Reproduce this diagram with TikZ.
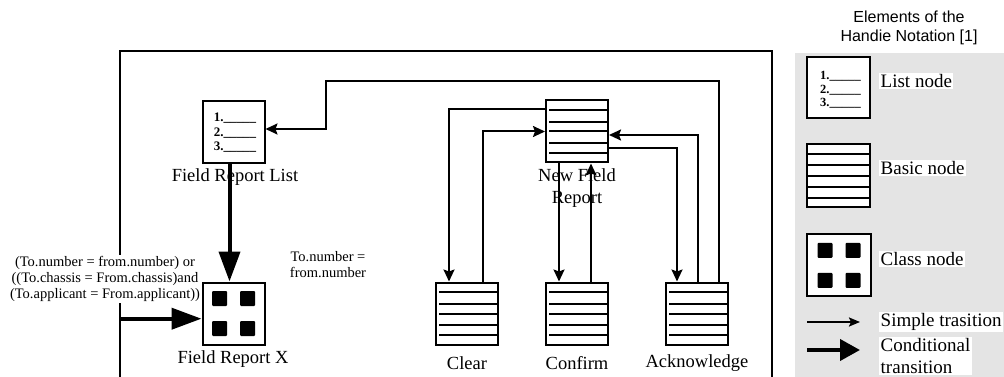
\documentclass[tikz,border=0pt]{standalone}
\usepackage{fontspec}
\setmainfont{Liberation Serif}
\newfontfamily\legsans{Liberation Sans}
\usetikzlibrary{arrows.meta,calc}
\definecolor{leggray}{HTML}{E4E4E4}
\begin{document}
\begin{tikzpicture}[x=1pt,y=-1pt,
  box/.style={draw, line width=2pt, minimum width=62pt, minimum height=62pt, inner sep=0pt, fill=white},
  basicbox/.style={box, path picture={
    \foreach \f in {0.16,0.34,0.5,0.685,0.85}{
      \draw[black, line width=2pt] ($(path picture bounding box.north west)!\f!(path picture bounding box.south west)+(#1,0)$) --
                            ($(path picture bounding box.north east)!\f!(path picture bounding box.south east)$);}}},
  classbox/.style={box, path picture={
    \foreach \dx in {-14,14}{\foreach \dy in {-15,15}{
      \fill[black, rounded corners=1pt] ($(path picture bounding box.center)+(\dx-7.5,\dy-7.5)$) rectangle ++(15,15);}}}},
  listtxt/.style={font=\bfseries\fontsize{13}{14.5}\selectfont, align=left},
  lbl/.style={font=\fontsize{18.5}{22}\selectfont, align=center, inner sep=0pt},
  cond/.style={font=\fontsize{14.5}{16.3}\selectfont, align=center},
  leglbl/.style={font=\fontsize{19}{22.5}\selectfont, align=left, fill=white, anchor=west, inner sep=1.5pt},
  simple/.style={line width=2pt, -{Stealth[length=12pt,width=11pt,inset=2pt]}},
  condarr/.style={line width=4pt, -{Triangle[length=30pt,width=21pt]}}
]
\useasboundingbox (0,0) rectangle (1004,377);

% ---------- frame ----------
\draw[line width=2pt] (120,377) -- (120,51) -- (771.7,51) -- (771.7,377);

% ---------- labels (under the connectors) ----------
\node[lbl] (lfrl) at (235,177) {Field Report List};
\node[lbl] (lfrx) at (233,359) {Field Report X};
\node[lbl] (lnfr) at (577,188) {New Field\\Report};
\node[lbl] (lclear) at (467,362.7) {Clear};
\node[lbl] (lconf) at (577,362.7) {Confirm};
\node[lbl] (lack) at (697,362.7) {Acknowledge};
\node[cond, fill=white, inner sep=1pt] (condlbl) at (105,279) {(To.number = from.number) or\\((To.chassis = From.chassis)and\\(To.applicant = From.applicant))};
\node[cond] (tonum) at (328,264.7) {To.number =\\from.number};

% ---------- nodes ----------
\node[box] (frl) at (233.5,132) {};
\node[listtxt] (frltxt) at (235,133) {1.\_\_\_\_\_\\2.\_\_\_\_\_\\3.\_\_\_\_\_};
\node[classbox] (frx) at (233.5,313.5) {};
\node[basicbox=3pt] (nfr) at (577,131.5) {};
\node[basicbox=3pt] (clear) at (467,313.5) {};
\node[basicbox=3pt] (confirm) at (577,313.5) {};
\node[basicbox=3pt] (ack) at (697,313.5) {};

% ---------- connectors ----------
\coordinate (t1) at (326,81);
\coordinate (fl) at (120,318.7);
\draw[condarr] ([xshift=-4pt]frl.south) -- ([xshift=-4pt]frx.north);
\draw[condarr] (fl) -- (fl -| frx.west);
\draw[simple] ([yshift=-10pt]nfr.north west) -| ([xshift=14pt]clear.north west);
\draw[simple] ([xshift=48pt]clear.north west) |- (nfr.west);
\draw[simple] ([xshift=14pt]nfr.south west) -- ([xshift=14pt]confirm.north west);
\draw[simple] ([xshift=46pt]confirm.north west) -- ([xshift=46pt]nfr.south west);
\draw[simple] ([yshift=-17pt]nfr.east) -| ([xshift=12pt]ack.north west);
\draw[simple] ([xshift=33pt]ack.north west) |- ([yshift=-3.5pt]nfr.east);
\draw[simple] ([xshift=54pt]ack.north west) |- (t1) |- ([yshift=3pt]frl.east);

% ---------- legend ----------
\fill[leggray] (795,53.3) rectangle (1004,377);
\node[font=\legsans\fontsize{16}{18.5}\selectfont, align=center] (title) at (909,28) {Elements of the\\Handie Notation [1]};
\node[box, minimum width=63pt, minimum height=61pt] (llist) at (838.5,87.5) {};
\node[listtxt, font=\bfseries\fontsize{12.5}{13.5}\selectfont] (llisttxt) at (840.5,90) {1.\_\_\_\_\_\\2.\_\_\_\_\_\\3.\_\_\_\_\_};
\node[basicbox=0pt, minimum width=63pt, minimum height=63pt] (lbasic) at (838.5,175.5) {};
\node[classbox, minimum width=64pt, minimum height=62pt] (lclass) at (839,265.3) {};
\node[leglbl] (t-list) at (879,81) {List node};
\node[leglbl] (t-basic) at (879,168) {Basic node};
\node[leglbl] (t-class) at (879,259) {Class node};
\node[leglbl] (t-simple) at (879,322) {Simple trasition};
\node[leglbl] (t-cond) at (879,356) {Conditional\\transition};
\coordinate (s1) at (807,322);
\coordinate (s2) at (860,322);
\coordinate (c1) at (807,350);
\coordinate (c2) at (860,350);
\draw[line width=2pt, -{Stealth[length=11pt,width=9pt,inset=2pt]}] (s1) -- (s2);
\draw[line width=4pt, -{Triangle[length=20pt,width=21pt]}] (c1) -- (c2);
\end{tikzpicture}
\end{document}
